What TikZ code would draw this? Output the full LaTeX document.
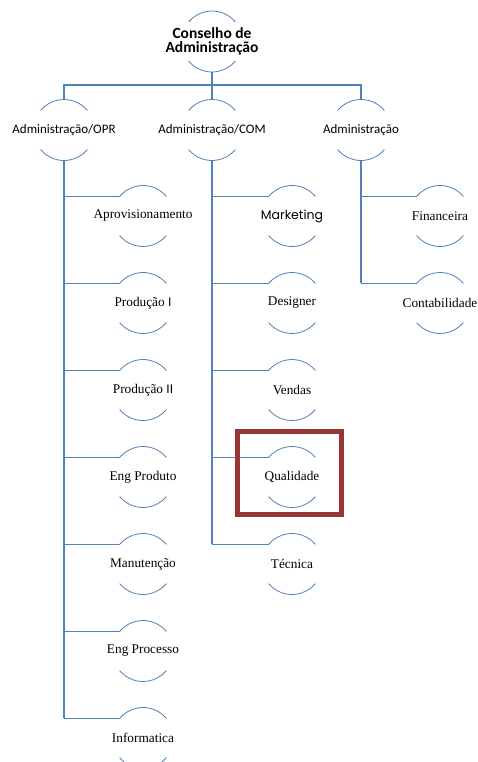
\documentclass[tikz,border=0pt]{standalone}
\usepackage{fontspec}
\setmainfont{Liberation Serif}
\newfontfamily\calibri{Carlito}
\newfontfamily\gothic{Poppins}
\definecolor{linkblue}{HTML}{4F81BD}
\definecolor{markred}{HTML}{953735}
% two open arcs, above and below a unit circle
\newcommand\rims[1]{%
  \draw[rim] (#1.40) arc[start angle=40,end angle=140,radius=30.5pt];
  \draw[rim] (#1.220) arc[start angle=220,end angle=320,radius=30.5pt];}
\begin{document}
\begin{tikzpicture}[x=1pt,y=1pt,
  unit/.style={circle, minimum size=61pt, inner sep=0pt, outer sep=0pt},
  link/.style={draw=linkblue, line width=1.3pt},
  trunk/.style={draw=linkblue, line width=2pt},
  rim/.style={draw=linkblue, line width=0.8pt},
  headtxt/.style={font=\calibri\bfseries\fontsize{15.5}{14.5}\selectfont, align=center, inner sep=0pt},
  midtxt/.style={font=\calibri\fontsize{13}{15}\selectfont, inner sep=0pt},
  leaftxt/.style={font=\fontsize{13.3}{15}\selectfont, inner sep=0pt},
  focusbox/.style={draw=markred, line width=5pt, minimum width=104pt, minimum height=83pt, inner sep=0pt}]
\useasboundingbox (0,0) rectangle (477,-762);
\clip (0,0) rectangle (477,-762);

% board
\node[unit] (top) at (212,-41.5) {};
\node[headtxt] (top-t) at (top) {Conselho de\\Administração};

% second level
\node[unit] (opr) at (64,-130) {};
\node[midtxt] (opr-t) at (opr) {Administração/OPR};
\node[unit] (com) at (212,-130) {};
\node[midtxt] (com-t) at (com) {Administração/COM};
\node[unit] (adm) at (361,-130) {};
\node[midtxt] (adm-t) at (adm) {Administração};

% OPR departments
\node[unit] (apr) at (143,-216) {};
\node[leaftxt] (apr-t) at (apr) {Aprovisionamento};
\node[unit] (pr1) at (143,-303) {};
\node[leaftxt] (pr1-t) at (pr1) {Produção {\calibri I}};
\node[unit] (pr2) at (143,-390) {};
\node[leaftxt] (pr2-t) at (pr2) {Produção {\calibri II}};
\node[unit] (epr) at (143,-477) {};
\node[leaftxt] (epr-t) at (epr) {Eng Produto};
\node[unit] (man) at (143,-564) {};
\node[leaftxt] (man-t) at (man) {Manutenção};
\node[unit] (eps) at (143,-651) {};
\node[leaftxt] (eps-t) at (eps) {Eng Processo};
\node[unit] (inf) at (143,-738) {};
\node[leaftxt] (inf-t) at (inf) {Informatica};

% COM departments
\node[unit] (mkt) at (292,-216) {};
\node[leaftxt, font=\gothic\fontsize{12.5}{15}\selectfont] (mkt-t) at (mkt) {Marketing};
\node[unit] (dsg) at (292,-303) {};
\node[leaftxt] (dsg-t) at (dsg) {Designer};
\node[unit] (ven) at (292,-390) {};
\node[leaftxt] (ven-t) at (ven) {Vendas};
\node[unit] (qua) at (292,-477) {};
\node[leaftxt] (qua-t) at (qua) {Qualidade};
\node[unit] (tec) at (292,-564) {};
\node[leaftxt] (tec-t) at (tec) {Técnica};

% administration departments
\node[unit] (fin) at (440,-216) {};
\node[leaftxt] (fin-t) at (fin) {Financeira};
\node[unit] (cont) at (440,-303) {};
\node[leaftxt] (cont-t) at (cont) {Contabilidade};

% arcs
\foreach \u in {top,opr,com,adm,apr,pr1,pr2,epr,man,eps,inf,mkt,dsg,ven,qua,tec,fin,cont}
  {\rims{\u}}

% connectors: board to second level
\coordinate (bus) at (212,-85);
\draw[link] (top.south) -- (com.north);
\draw[link] (opr.north) -- (opr.north |- bus) -- (adm.north |- bus) -- (adm.north);

% connectors: trunks and branches
\draw[trunk] (opr.south) -- (opr.south |- inf.140);
\foreach \c in {apr,pr1,pr2,epr,man,eps,inf}
  {\draw[link] (opr.south |- \c.140) -- (\c.140);}
\draw[trunk] (com.south) -- (com.south |- tec.140);
\foreach \c in {mkt,dsg,ven,qua,tec}
  {\draw[link] (com.south |- \c.140) -- (\c.140);}
\draw[trunk] (adm.south) -- (adm.south |- cont.140);
\foreach \c in {fin,cont}
  {\draw[link] (adm.south |- \c.140) -- (\c.140);}

% highlight
\node[focusbox] (focus) at (289.5,-473) {};
\end{tikzpicture}
\end{document}
